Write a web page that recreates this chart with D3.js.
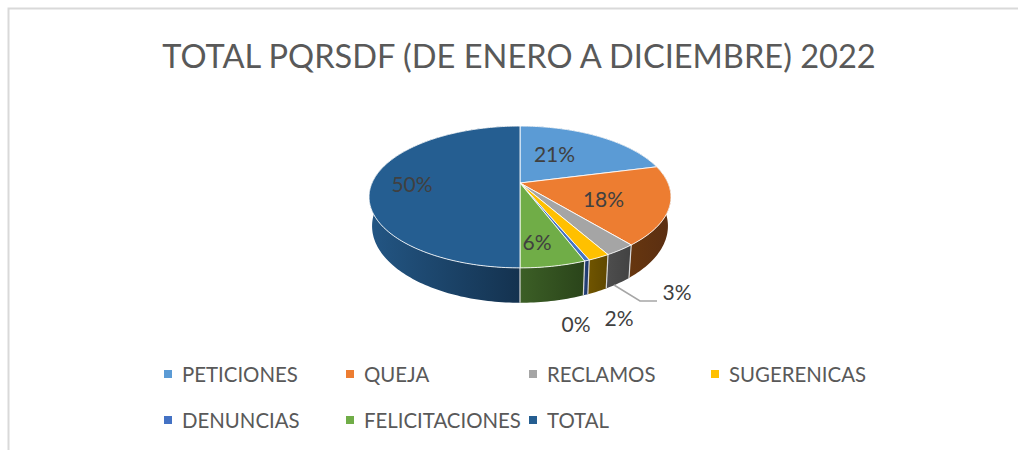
<!DOCTYPE html>
<html><head><meta charset="utf-8">
<script src="https://cdn.jsdelivr.net/npm/d3@7/dist/d3.min.js"></script>
<style>html,body{margin:0;padding:0;background:#fff}svg{display:block}text{font-family:Lato,"Open Sans",sans-serif}</style>
</head><body><svg id="c" width="1018" height="450"></svg>
<script>
const title = "TOTAL PQRSDF (DE ENERO A DICIEMBRE) 2022";
const categories = ["PETICIONES","QUEJA","RECLAMOS","SUGERENICAS","DENUNCIAS","FELICITACIONES","TOTAL"];
const values = [21,18,2.8,1.95,0.45,5.8,50];
const labels = ["21%","18%","3%","2%","0%","6%","50%"];
const topColors = ["#5B9BD5","#ED7D31","#A5A5A5","#FFC000","#4472C4","#70AD47","#255E91"];
const wallLight = ["#2f5b82","#66360f","#4d4d4d","#6f5400","#25427a","#3c5f26","#235684"];
const wallDark  = ["#254b6e","#5a2e12","#424242","#5f4800","#1c3565","#2a441a","#14324f"];

const svg = d3.select("#c");
// perspective projection of the pie disc
const cx=520, horizon=-163, H=346, k=-0.197, R=148, depth=28, shrink=0.98;
const project=(a,z)=>{const u=Math.sin(a),v=-Math.cos(a),w=1/(1+k*v);
  return z?[cx+R*u*w*shrink,horizon+H*w+depth*w]:[cx+R*u*w,horizon+H*w];};
const arcs=d3.pie().sort(null).value(d=>d)(values);
const rim=(a0,a1,z)=>{const n=Math.max(2,Math.ceil((a1-a0)/0.02));
  return d3.range(n+1).map(i=>project(a0+(a1-a0)*i/n,z));};
const line=d3.line();
const centre=[cx,horizon+H];

// frame: top and left edges only, as cropped in the reference
svg.append("path").attr("d",d3.line()([[8.5,450],[8.5,8.5],[1018,8.5]]))
  .attr("fill","none").attr("stroke","#d9d9d9").attr("stroke-width",2);

// title
svg.append("text").attr("x",519).attr("y",68).attr("text-anchor","middle")
  .attr("font-size",32.6).attr("fill","#595959").text(title);

// walls
const defs=svg.append("defs");
arcs.forEach((d,i)=>{
  const top=rim(d.startAngle,d.endAngle,false), bot=rim(d.startAngle,d.endAngle,true).reverse();
  const xs=top.map(p=>p[0]);
  const g=defs.append("linearGradient").attr("id","w"+i).attr("gradientUnits","userSpaceOnUse")
    .attr("x1",d3.min(xs)).attr("x2",d3.max(xs)).attr("y1",0).attr("y2",0);
  g.append("stop").attr("offset",0).attr("stop-color",wallLight[i]);
  g.append("stop").attr("offset",1).attr("stop-color",wallDark[i]);
  svg.append("path").attr("d",line(top.concat(bot))+"Z").attr("fill",`url(#w${i})`);
});
// slice boundaries on the wall
arcs.forEach(d=>{
  const a=d.endAngle;
  if(Math.cos(a)<-0.2 && Math.abs(a-2*Math.PI)>1e-6){
    svg.append("path").attr("d",line([project(a,false),project(a,true)]))
      .attr("stroke","#d8d8d8").attr("stroke-width",1.2).attr("fill","none");
  }
});
// top faces
arcs.forEach((d,i)=>{
  svg.append("path").attr("d",line([centre].concat(rim(d.startAngle,d.endAngle,false)))+"Z")
    .attr("fill",topColors[i]).attr("stroke","#fff").attr("stroke-width",1).attr("stroke-opacity",0.85).attr("stroke-linejoin","round");
});

// leader line for RECLAMOS label
const leader=[[614,285],[640,301],[657,301]];
svg.append("path").attr("d",line(leader)).attr("fill","none").attr("stroke","#a6a6a6").attr("stroke-width",1.5);

// data labels
const labelPos=[[554.5,156.5],[603.5,201.5],[677,294.5],[619,320.5],[576,326.5],[537,244.5],[412,186.5]];
labels.forEach((t,i)=>{
  svg.append("text").attr("x",labelPos[i][0]).attr("y",labelPos[i][1]).attr("text-anchor","middle")
    .attr("dominant-baseline","middle").attr("font-size",21).attr("fill","#404040").text(t);
});

// legend
const legendX=[164,346,529,711], legendY=[374,420];
categories.forEach((c,i)=>{
  const col=i<4?i:i-4,row=i<4?0:1;
  const x=legendX[col],y=legendY[row];
  svg.append("rect").attr("x",x).attr("y",y-4).attr("width",8).attr("height",8).attr("fill",topColors[i]);
  svg.append("text").attr("x",x+18).attr("y",y+8).attr("font-size",20.4).attr("fill","#595959").text(c);
});
</script></body></html>
